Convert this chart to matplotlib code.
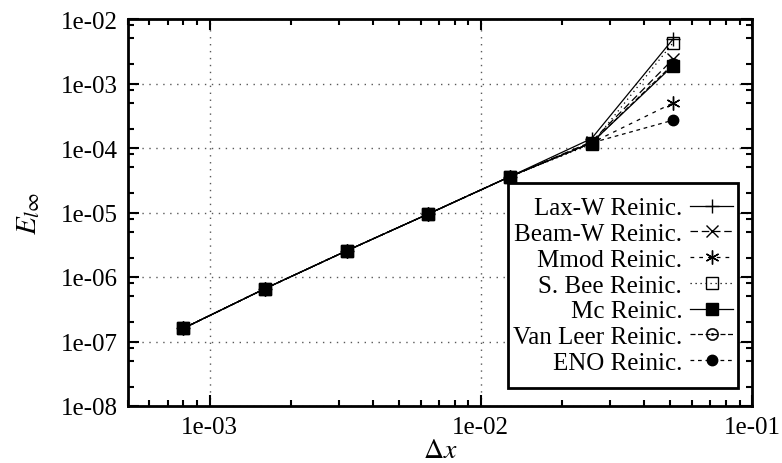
import numpy as np
import matplotlib
matplotlib.use("Agg")
import matplotlib.pyplot as plt
from matplotlib.patches import Rectangle
from matplotlib.ticker import LogLocator, FuncFormatter, NullFormatter

# grid spacing and L-infinity error per limiter
dx = [0.0008, 0.0016, 0.0032, 0.0064, 0.0128, 0.0256, 0.0512]
lax_w = [1.6e-7, 6.6e-7, 2.55e-6, 9.5e-6, 3.6e-5, 1.4e-4, 4.9e-3]
beam_w = [1.6e-7, 6.6e-7, 2.55e-6, 9.5e-6, 3.6e-5, 1.25e-4, 2.4e-3]
mmod = [1.6e-7, 6.6e-7, 2.55e-6, 9.5e-6, 3.6e-5, 1.2e-4, 5.0e-4]
s_bee = [1.6e-7, 6.6e-7, 2.55e-6, 9.5e-6, 3.6e-5, 1.15e-4, 4.3e-3]
mc = [1.6e-7, 6.6e-7, 2.55e-6, 9.5e-6, 3.6e-5, 1.2e-4, 1.9e-3]
van_leer = [1.6e-7, 6.6e-7, 2.55e-6, 9.5e-6, 3.6e-5, 1.2e-4, 2.0e-3]
eno = [1.6e-7, 6.6e-7, 2.55e-6, 9.5e-6, 3.6e-5, 1.2e-4, 2.7e-4]

labels = ["Lax-W Reinic.", "Beam-W Reinic.", "Mmod Reinic.", "S. Bee Reinic.",
          "Mc Reinic.", "Van Leer Reinic.", "ENO Reinic."]

plt.rcParams["font.family"] = ["Liberation Serif", "DejaVu Serif"]
plt.rcParams["mathtext.fontset"] = "stix"

fig = plt.figure(figsize=(7.82, 4.64), dpi=100)
ax = fig.add_axes([128 / 782, 57 / 464, 624 / 782, 387 / 464])

lw = 0.9
styles = [
    dict(ls="-", marker="+", ms=10, mew=1.0, color="k"),
    dict(ls=(0, (6, 3)), marker="x", ms=8, mew=1.0, color="k"),
    dict(ls=(0, (3, 4)), marker=(6, 2, 0), ms=10, mew=1.0, color="k"),
    dict(ls=(0, (1, 3)), marker="s", ms=8.5, mew=1.0, color="k", fillstyle="none"),
    dict(ls="-", marker="s", ms=8.5, mew=1.0, color="k"),
    dict(ls=(0, (4, 2)), marker="$\\odot$", ms=9, mew=0.3, color="k"),
    dict(ls=(0, (3, 3)), marker="o", ms=7.5, mew=1.0, color="k"),
]
series = [lax_w, beam_w, mmod, s_bee, mc, van_leer, eno]
for ys, lab, st in zip(series, labels, styles):
    ax.plot(dx, ys, lw=lw, label=lab, **st)

ax.set_xscale("log")
ax.set_yscale("log")
ax.set_xlim(5e-4, 1e-1)
ax.set_ylim(1e-8, 1e-2)

ax.xaxis.set_major_locator(LogLocator(base=10, numticks=10))
ax.xaxis.set_minor_locator(LogLocator(base=10, subs=np.arange(2, 10), numticks=20))
ax.yaxis.set_major_locator(LogLocator(base=10, numticks=10))
ax.yaxis.set_minor_locator(LogLocator(base=10, subs=(2, 5, 8), numticks=20))
fmt = FuncFormatter(lambda v, p: f"{v:.0e}")
ax.xaxis.set_major_formatter(fmt)
ax.yaxis.set_major_formatter(fmt)
ax.xaxis.set_minor_formatter(NullFormatter())
ax.yaxis.set_minor_formatter(NullFormatter())

ax.tick_params(which="both", direction="in", top=True, right=True, width=1.5)
ax.tick_params(which="major", length=8, labelsize=18)
ax.tick_params(which="minor", length=4)
ax.tick_params(axis="y", which="major", pad=7)
ax.tick_params(axis="x", which="major", pad=7)
for sp in ax.spines.values():
    sp.set_linewidth(2.0)

ax.grid(True, which="major", ls=(0, (1, 4)), color="0.35", lw=1.0)

ax.set_xlabel(r"$\Delta x$", fontsize=20, labelpad=0)
ax.set_ylabel(r"$E_{l\infty}$", fontsize=21, labelpad=14)

# legend box: wider vertical padding than horizontal, as in the gnuplot key
box = (0.609, 0.047, 0.369, 0.53)
ax.add_patch(Rectangle(box[:2], box[2], box[3], transform=ax.transAxes,
                       facecolor="white", edgecolor="k", lw=2.0, zorder=4.9))
leg = ax.legend(loc="center", bbox_to_anchor=box, borderaxespad=0,
                markerfirst=False, fontsize=18, handlelength=1.75, handletextpad=0.3,
                labelspacing=0.13, borderpad=0.0, frameon=False)
leg.set_zorder(5)

fig.savefig("out.png", dpi=100)
